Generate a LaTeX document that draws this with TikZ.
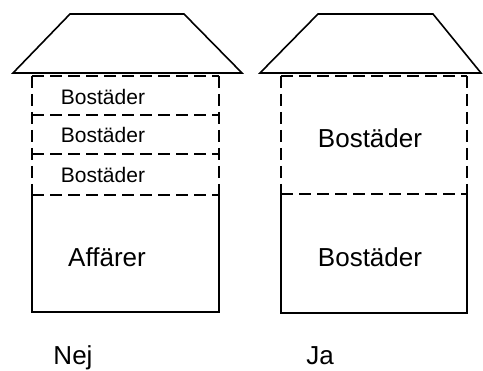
\documentclass[tikz,border=0pt]{standalone}
\usepackage{fontspec}
\setmainfont{Liberation Sans}
\begin{document}
\begin{tikzpicture}[x=1pt,y=-1pt,
  wall/.style={draw=black,line width=1.6pt},
  dwall/.style={draw=black,line width=1.6pt,dash pattern=on 12pt off 6pt},
  bigtxt/.style={font=\fontsize{26}{30}\selectfont,inner sep=0pt},
  smalltxt/.style={font=\fontsize{21}{25}\selectfont,inner sep=0pt}]
\useasboundingbox (0,0) rectangle (483,371);
% left house
\draw[wall,line join=miter] (13,73) -- (70,14) -- (184,14) -- (242,73) -- cycle;
\draw[dwall] (32,76) -- (219,76);
\draw[dwall] (32,76) -- (32,195);
\draw[dwall] (219,76) -- (219,195);
\draw[dwall] (32,115) -- (219,115);
\draw[dwall] (32,154) -- (219,154);
\draw[dwall] (32,195) -- (219,195);
\draw[wall] (32,195) -- (32,312) -- (219,312) -- (219,195);
\node[smalltxt] (b1) at (103,97) {Bostäder};
\node[smalltxt] (b2) at (103,135) {Bostäder};
\node[smalltxt] (b3) at (103,175) {Bostäder};
\node[bigtxt] (aff) at (107,257) {Affärer};
\node[bigtxt,anchor=base] (nej) at (73,365) {Nej};
% right house
\draw[wall,line join=miter] (260,73) -- (318,14) -- (433,14) -- (481,73) -- cycle;
\draw[dwall] (281,76) -- (467,76);
\draw[dwall] (281,76) -- (281,194);
\draw[dwall] (467,76) -- (467,194);
\draw[dwall] (281,194) -- (467,194);
\draw[wall] (281,194) -- (281,313) -- (467,313) -- (467,194);
\node[bigtxt] (b4) at (370,138) {Bostäder};
\node[bigtxt] (b5) at (370,257) {Bostäder};
\node[bigtxt,anchor=base] (ja) at (320,365) {Ja};
\end{tikzpicture}
\end{document}
